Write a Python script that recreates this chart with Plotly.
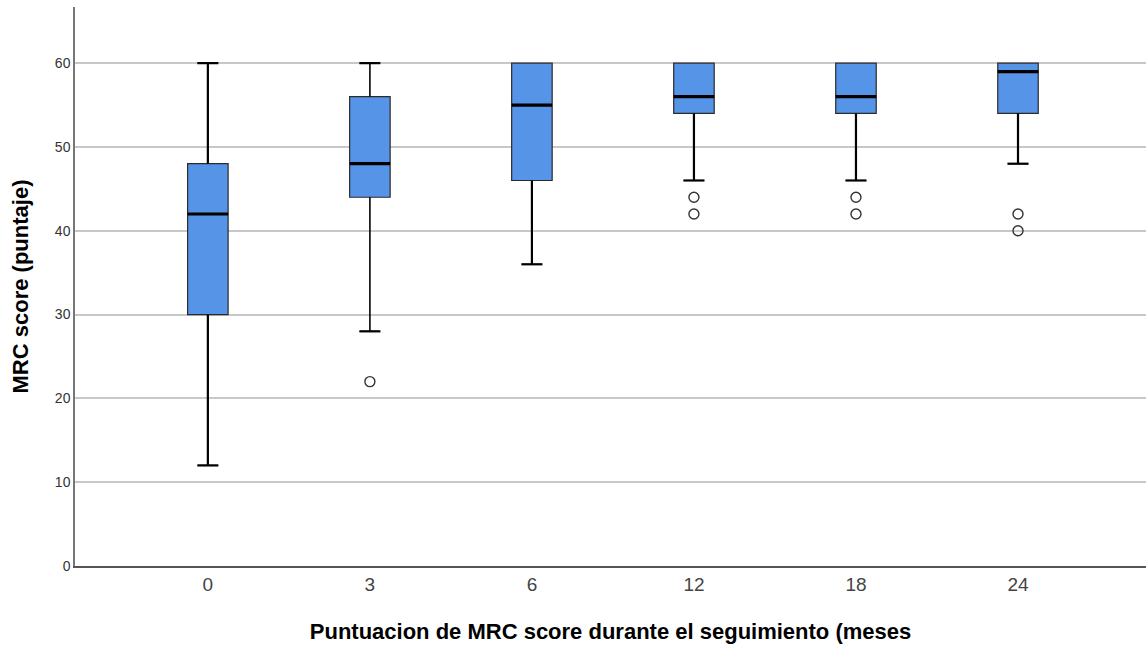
import plotly.graph_objects as go

categories = ["0", "3", "6", "12", "18", "24"]
lower_fence = [12, 28, 36, 46, 46, 48]
q1 = [30, 44, 46, 54, 54, 54]
median = [42, 48, 55, 56, 56, 59]
q3 = [48, 56, 60, 60, 60, 60]
upper_fence = [60, 60, 60, 60, 60, 60]
outlier_cat = [1, 3, 3, 4, 4, 5, 5]
outlier_val = [22, 44, 42, 44, 42, 42, 40]

yticks = [0, 10, 20, 30, 40, 50, 60]

BOX_W = 0.25
CAP_W = 0.13
stem_widths = [2.2, 1.2, 2.2, 2.2, 2.2, 2.2]

xs = list(range(len(categories)))
fig = go.Figure()

fig.add_trace(go.Box(
    x=xs, q1=q1, median=median, q3=q3,
    lowerfence=lower_fence, upperfence=upper_fence,
    width=BOX_W, whiskerwidth=0.5,
    fillcolor="#5594E6", line=dict(color="#2b2b2b", width=1.2),
    boxpoints=False, showlegend=False, hoverinfo="skip",
))

for i in xs:
    for a, b in ((q3[i], upper_fence[i]), (q1[i], lower_fence[i])):
        if a == b:
            continue
        fig.add_trace(go.Scatter(x=[i, i], y=[a, b], mode="lines",
                                 line=dict(color="black", width=stem_widths[i]),
                                 showlegend=False, hoverinfo="skip"))
        fig.add_trace(go.Scatter(x=[i - CAP_W / 2, i + CAP_W / 2], y=[b, b], mode="lines",
                                 line=dict(color="black", width=2.2),
                                 showlegend=False, hoverinfo="skip"))
    fig.add_trace(go.Scatter(x=[i - BOX_W / 2, i + BOX_W / 2], y=[median[i], median[i]],
                             mode="lines", line=dict(color="black", width=3.2),
                             showlegend=False, hoverinfo="skip"))

fig.add_trace(go.Scatter(
    x=outlier_cat, y=outlier_val, mode="markers",
    marker=dict(symbol="circle-open", size=10, color="#333333", line=dict(width=1.4)),
    showlegend=False, hoverinfo="skip",
))

fig.update_layout(
    width=1146, height=649,
    margin=dict(l=75, r=0, t=7, b=83),
    paper_bgcolor="white", plot_bgcolor="white",
    font=dict(family="Liberation Sans, Arial, sans-serif", color="#222222"),
)
fig.update_xaxes(
    range=[-0.82, 5.79], tickvals=xs, ticktext=categories,
    showgrid=False, zeroline=False, showline=True, linecolor="#555555", linewidth=1.5,
    ticks="", tickfont=dict(size=19, color="#444444"),
    title=dict(text="<b>Puntuacion de MRC score durante el seguimiento (meses</b>",
               font=dict(size=22, color="black"), standoff=30),
)
fig.update_yaxes(
    range=[0, 66.7], tickvals=yticks,
    showgrid=True, gridcolor="#c8c8c8", gridwidth=1.5, zeroline=False,
    showline=True, linecolor="#777777", linewidth=1.5,
    ticks="", tickfont=dict(size=14, color="#333333"),
    title=dict(text="<b>MRC score (puntaje)</b>", font=dict(size=22, color="black"), standoff=20),
)

fig.write_html("out.html", config={"displayModeBar": False},
               post_script="document.body.style.margin='0';document.body.style.padding='0';")
